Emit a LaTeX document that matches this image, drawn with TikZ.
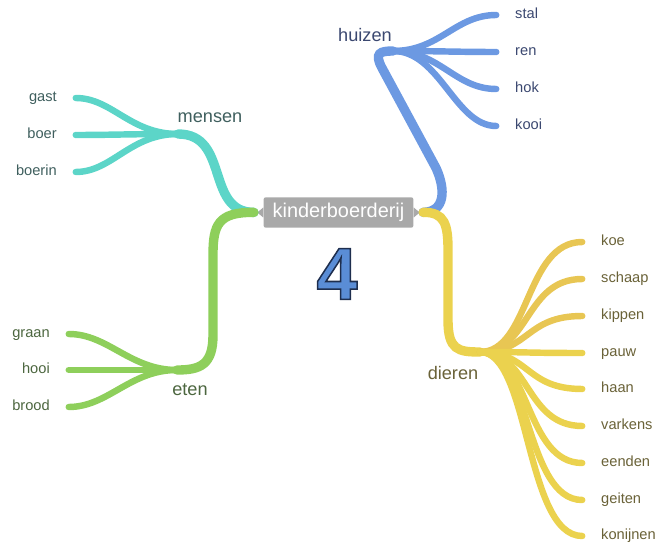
\documentclass[tikz,border=0pt]{standalone}
\usepackage{fontspec}
\setmainfont{Liberation Sans}

\definecolor{boxgrey}{HTML}{A9A9A9}
\definecolor{mens}{HTML}{5CD5C8}
\definecolor{eet}{HTML}{8ECF5B}
\definecolor{huis}{HTML}{6C99E2}
\definecolor{dier}{HTML}{EBD24E}
\definecolor{dierDark}{HTML}{E8C653}
\definecolor{mensTxt}{HTML}{3F5F5E}
\definecolor{eetTxt}{HTML}{4C663F}
\definecolor{huisTxt}{HTML}{3B4870}
\definecolor{dierTxt}{HTML}{6A6238}

% outlined digit: fill 5A8DD6, stroke 1E2E4E
\newcommand\outlined[1]{%
  \special{pdf:literal direct q 2 Tr 1.3 w 0.118 0.180 0.306 RG 0.353 0.553 0.839 rg}%
  #1\special{pdf:literal direct Q}}

\tikzset{
  leaf/.style={inner sep=0pt, font=\fontsize{12.5}{14}\selectfont,
    text height=1.6ex, text depth=.35ex},
  topic/.style={inner sep=0pt, font=\fontsize{15.5}{18}\selectfont},
  limb/.style={line width=8pt, line cap=round, shorten <=8pt},
  twig/.style={line width=5.5pt, line cap=round, shorten >=16pt},
}

\begin{document}
\begin{tikzpicture}[x=0.03cm, y=-0.03cm]
\useasboundingbox (0,0) rectangle (671,544);

% centre
\node[fill=boxgrey, rounded corners=2pt, minimum width=128pt,
  minimum height=26pt, inner sep=0pt, text=white,
  font=\fontsize{17}{20}\selectfont] (kb) at (338.5,212.5) {kinderboerderij};
\fill[boxgrey] (kb.west) ++(0,-5) -- ++(-6,5) -- ++(6,5) -- cycle;
\fill[boxgrey] (kb.east) ++(0,-5) -- ++(6,5) -- ++(-6,5) -- cycle;

\node[inner sep=0pt, font=\fontsize{63}{63}\bfseries\selectfont]
  (vier) at (337,274) {\outlined{4}};

% hubs
\coordinate (mhub) at (178,134);
\coordinate (ehub) at (177,370);
\coordinate (hhub) at (393,51);
\coordinate (dhub) at (480,352);

\node[topic, text=mensTxt] (mensen) at (210,118) {mensen};
\node[topic, text=eetTxt] (eten) at (190,390) {eten};
\node[topic, text=huisTxt] (huizen) at (365,35) {huizen};
\node[topic, text=dierTxt] (dieren) at (453,373) {dieren};

% main limbs
\draw[limb, mens] (kb.west) .. controls (205,212) and (230,134) .. (mhub);
\draw[limb, eet] (kb.west) .. controls (218,212) and (213,225) .. (213,255)
  -- (213,335) .. controls (213,365) and (200,370) .. (ehub);
\draw[limb, huis] (kb.east) .. controls (445,212) and (446,190) .. (436,168)
  -- (382,68) .. controls (374,53) and (380,51) .. (hhub);
\draw[limb, dier] (kb.east) .. controls (445,212) and (448,225) .. (448,250)
  -- (448,320) .. controls (448,350) and (458,352) .. (dhub);

% leaves
\foreach \leaf/\y in {gast/98, boer/135, boerin/172}{
  \node[leaf, text=mensTxt, anchor=east] (\leaf) at (57,\y) {\leaf};
  \draw[twig, mens] (mhub) .. controls (130,134) and (112,\y) .. (\leaf.east);
}
\foreach \leaf/\y in {graan/334, hooi/370, brood/407}{
  \node[leaf, text=eetTxt, anchor=east] (\leaf) at (50,\y) {\leaf};
  \draw[twig, eet] (ehub) .. controls (130,370) and (108,\y) .. (\leaf.east);
}
\foreach \leaf/\y in {stal/15, ren/52, hok/89, kooi/126}{
  \node[leaf, text=huisTxt, anchor=west] (\leaf) at (515,\y) {\leaf};
  \draw[twig, huis] (hhub) .. controls (440,51) and (455,\y) .. (\leaf.west);
}
\foreach \leaf/\y/\tint in {koe/242/dierDark, schaap/279/dierDark, kippen/316/dierDark,
  pauw/353/dier, haan/389/dier, varkens/426/dier, eenden/463/dier,
  geiten/500/dier, konijnen/536/dier}{
  \node[leaf, text=dierTxt, anchor=west] (\leaf) at (601,\y) {\leaf};
  \draw[twig, \tint] (dhub) .. controls (530,352) and (525,\y) .. (\leaf.west);
}
\end{tikzpicture}
\end{document}
